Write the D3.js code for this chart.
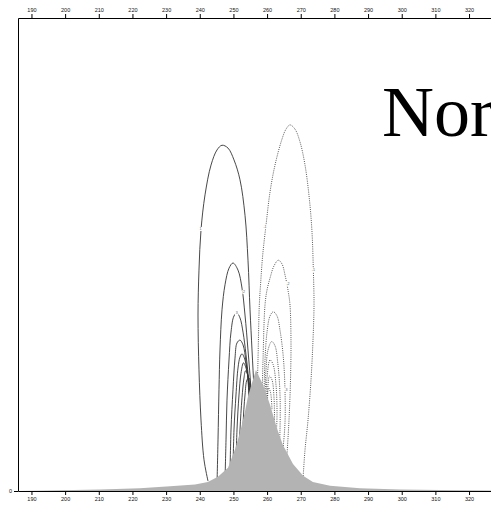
<!DOCTYPE html>
<html>
<head>
<meta charset="utf-8">
<script src="https://cdn.jsdelivr.net/npm/d3@7"></script>
<style>
  body { margin: 0; background: #fff; }
  svg { display: block; }
  .axis text { font-family: "Liberation Sans", Arial, sans-serif; font-size: 5.5px; fill: #111; }
  .axis path, .axis line { stroke: #000; stroke-width: 1; }
</style>
</head>
<body>
<div id="vis"></div>
<script>
//#region data

const xTicks = [190, 200, 210, 220, 230, 240, 250, 260, 270, 280, 290, 300, 310, 320];
const yTicks = [0];

// terrain profile (grid x, height km)
const terrainX = [186, 198.5, 210.4, 222.2, 231.2, 238.6, 242.4, 245.4, 248.4, 250.5, 252, 253.4, 254.3, 255.8, 256.7,
  258.8, 260.9, 262.9, 264.7, 267.7, 270.7, 273.6, 278.7, 287.6, 299.5, 311.4, 326.5, 341];
const terrainZ = [0, 0.015, 0.03, 0.06, 0.1, 0.14, 0.19, 0.3, 0.49, 0.89, 1.25, 1.67, 1.99, 2.35, 2.56,
  2.24, 1.82, 1.33, 0.97, 0.57, 0.32, 0.19, 0.11, 0.06, 0.03, 0.02, 0.01, 0];

// positive contours (solid), [x, z]
const posContours = [
  [[242.45,0.21],[241.26,0.66],[240.37,1.50],[239.77,2.56],[239.48,3.72],[239.77,4.67],[240.37,5.52],[241.56,6.26],
   [243.34,6.89],[245.12,7.21],[246.61,7.31],[248.39,7.25],[250.17,7.00],[251.95,6.58],[253.44,5.83],[254.33,4.88],
   [254.93,3.83],[255.52,2.98],[256.11,2.14],[256.4,1.5]],
  [[245.12,0.13],[245.42,1.08],[245.71,2.14],[246.01,2.98],[246.61,3.83],[247.50,4.36],[248.69,4.71],[249.87,4.82],
   [251.36,4.67],[252.55,4.29],[253.44,3.72],[254.33,2.98],[255.22,2.14],[255.6,1.5]],
  [[247.50,0.23],[247.80,1.08],[248.09,1.92],[248.69,2.77],[249.28,3.36],[250.17,3.70],[251.06,3.76],[251.95,3.66],
   [252.85,3.36],[253.74,2.88],[254.63,2.24],[255.0,1.5]],
  [[248.98,0.34],[249.28,1.29],[249.87,2.14],[250.47,2.81],[251.06,3.13],[251.95,3.19],[252.85,3.09],[253.74,2.73],
   [254.63,2.14],[255.0,1.5]],
  [[249.87,0.44],[250.17,1.29],[250.76,2.03],[251.36,2.60],[251.95,2.83],[252.55,2.90],[253.44,2.77],[254.33,2.35],[254.7,1.5]],
  [[250.76,0.55],[251.06,1.29],[251.66,2.03],[252.25,2.49],[252.99,2.71],[253.74,2.60],[254.63,2.24],[255.0,1.5]],
  [[251.66,0.66],[251.95,1.29],[252.55,1.97],[253.14,2.39],[253.59,2.54],[254.33,2.45],[254.93,2.14],[255.3,1.5]],
  [[252.55,0.76],[252.85,1.40],[253.44,2.03],[254.04,2.35],[254.63,2.39],[255.22,2.14],[255.6,1.5]]
];

// negative contours (dotted), [x, z]
const negContours = [
  [[257.01,2.03],[257.30,2.77],[257.69,3.93],[258.11,4.42],[258.70,4.99],[259.68,5.62],[260.87,6.32],[262.35,6.89],
   [264.34,7.42],[265.62,7.65],[266.81,7.74],[268.29,7.65],[269.78,7.38],[271.27,6.89],[272.54,6.19],[273.34,5.48],
   [273.73,4.71],[273.94,3.93],[273.64,3.19],[273.05,2.35],[272.16,1.50],[271.27,0.87],[270.67,0.27],[270.37,0.02]],
  [[258.49,1.92],[258.79,2.77],[259.38,3.93],[259.98,4.25],[260.87,4.50],[262.06,4.76],[263.33,4.88],[264.43,4.80],
   [265.32,4.57],[266.30,4.21],[266.81,3.93],[267.10,3.19],[266.96,2.35],[266.51,1.50],[265.92,0.76],[265.62,0.34]],
  [[259.08,2.03],[259.38,2.77],[259.98,3.36],[260.87,3.70],[261.85,3.79],[262.95,3.70],[263.84,3.40],[264.82,2.83],
   [265.32,2.14],[265.32,1.44],[264.73,0.87],[264.43,0.55]],
  [[259.38,1.92],[259.68,2.56],[260.27,2.98],[261.37,3.16],[262.35,3.07],[263.24,2.66],[263.84,2.03],[263.84,1.29],[263.54,0.76]],
  [[259.68,1.82],[259.98,2.39],[260.87,2.77],[261.76,2.68],[262.65,2.24],[262.95,1.61],[262.65,1.08]],
  [[259.98,1.82],[260.27,2.24],[260.72,2.43],[261.46,2.35],[262.06,1.97],[262.21,1.40]],
  [[260.12,1.82],[260.42,2.18],[261.01,2.09],[261.46,1.71]]
];

// contour line labels [x, z, text]
const lineLabels = [
  [240.22, 5.54, "1"],
  [253.14, 4.21, "2"],
  [250.97, 3.76, "3"],
  [259.38, 5.58, "-1"],
  [273.73, 4.67, "-1"],
  [266.21, 4.38, "-2"],
  [265.62, 2.14, "-3"]
];

const titleText = "Normal";

//#endregion

//#region scales

const W = 491, H = 505;
const L = 18, T = 18, B = 491;

const xScale = d3.scaleLinear()
  .domain([186, 341])
  .range([L, L + 155 * 3.366]);

const yScale = d3.scaleLinear()
  .domain([0, 10])
  .range([B, T]);

const line = d3.line()
  .x(d => xScale(d[0]))
  .y(d => yScale(d[1]))
  .curve(d3.curveCatmullRom.alpha(0.5));

const terrainArea = d3.area()
  .x(d => xScale(d[0]))
  .y0(yScale(0))
  .y1(d => yScale(d[1]));

//#endregion

//#region render

const svg = d3.select("#vis")
  .append("svg")
    .attr("width", W)
    .attr("height", H);

svg.append("defs").append("clipPath")
  .attr("id", "plot-clip")
  .append("rect")
    .attr("x", L)
    .attr("y", T)
    .attr("width", 600)
    .attr("height", B - T);

const plot = svg.append("g").attr("clip-path", "url(#plot-clip)");

plot.append("g")
  .selectAll("path")
  .data(posContours)
  .enter()
  .append("path")
    .attr("d", line)
    .attr("fill", "none")
    .attr("stroke", "#333")
    .attr("stroke-width", 0.9);

plot.append("g")
  .selectAll("path")
  .data(negContours)
  .enter()
  .append("path")
    .attr("d", line)
    .attr("fill", "none")
    .attr("stroke", "#444")
    .attr("stroke-width", 0.9)
    .attr("stroke-dasharray", "1,1.2");

const labs = plot.append("g")
  .selectAll("g")
  .data(lineLabels)
  .enter()
  .append("g")
    .attr("transform", d => `translate(${xScale(d[0])},${yScale(d[1])})`);

labs.append("rect")
  .attr("x", d => -d[2].length * 1.2 - 0.6)
  .attr("y", -2)
  .attr("width", d => d[2].length * 2.4 + 1.2)
  .attr("height", 4)
  .attr("fill", "#fff");

labs.append("text")
  .attr("text-anchor", "middle")
  .attr("dy", "1.3")
  .style("font-family", "Liberation Sans, Arial, sans-serif")
  .style("font-size", "3.6px")
  .style("fill", "#555")
  .text(d => d[2]);

plot.append("path")
  .datum(terrainX.map((x, i) => [x, terrainZ[i]]))
  .attr("d", terrainArea)
  .attr("fill", "#b3b3b3");

svg.append("g")
  .attr("class", "axis")
  .attr("transform", `translate(0,${T})`)
  .call(d3.axisTop(xScale).tickValues(xTicks).tickSize(4).tickSizeOuter(0).tickPadding(2));

svg.append("g")
  .attr("class", "axis")
  .attr("transform", `translate(0,${B})`)
  .call(d3.axisBottom(xScale).tickValues(xTicks).tickSize(4).tickSizeOuter(0).tickPadding(2));

svg.append("g")
  .attr("class", "axis")
  .attr("transform", `translate(${L},0)`)
  .call(d3.axisLeft(yScale).tickValues(yTicks).tickSize(4).tickSizeOuter(0).tickPadding(2));

svg.append("text")
  .attr("x", 382)
  .attr("y", 136)
  .style("font-family", "Liberation Serif, Times New Roman, serif")
  .style("font-size", "72px")
  .style("fill", "#000")
  .text(titleText);

//#endregion
</script>
</body>
</html>
